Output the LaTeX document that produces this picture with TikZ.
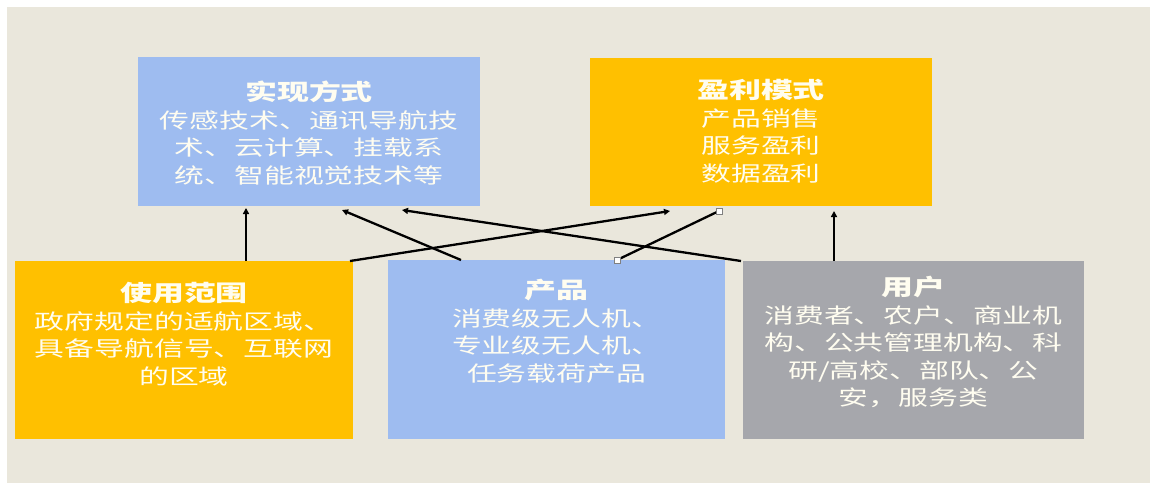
\documentclass[tikz,border=0pt]{standalone}
\usepackage{fontspec}
\newfontfamily\cjk[FakeStretch=1.42]{Noto Sans CJK SC}
\usetikzlibrary{calc,arrows.meta}
\definecolor{bgc}{RGB}{234,231,220}
\definecolor{blu}{RGB}{158,188,240}
\definecolor{org}{RGB}{255,192,0}
\definecolor{gry}{RGB}{166,167,172}
\definecolor{txtc}{RGB}{255,253,240}
\newcommand{\ttl}{\fontsize{22.5}{27.5}\selectfont\bfseries}
\begin{document}
\begin{tikzpicture}[x=1pt,y=-1pt,
  box/.style={draw=none, inner sep=0pt, outer sep=0pt, anchor=north west},
  txt/.style={anchor=north, align=center, inner sep=0pt, text=txtc, font=\cjk\fontsize{21}{27.5}\selectfont},
  arr/.style={draw=black, line width=2.3pt, -{Triangle[length=6pt,width=6pt]}},
  handle/.style={draw=gray, fill=white, line width=0.5pt, minimum size=6pt, inner sep=0pt}]
\useasboundingbox (0,0) rectangle (1150,483);
\fill[white] (0,0) rectangle (1150,483);
\fill[bgc] (7,7) rectangle (1150,483);

\node[box, fill=blu, minimum width=342pt, minimum height=149pt] (sx) at (138,57) {};
\node[box, fill=org, minimum width=342pt, minimum height=148pt] (yl) at (590,58) {};
\node[box, fill=org, minimum width=338pt, minimum height=178pt] (su) at (15,261) {};
\node[box, fill=blu, minimum width=337pt, minimum height=179pt] (cp) at (388,260) {};
\node[box, fill=gry, minimum width=341pt, minimum height=178pt] (yh) at (743,261) {};

\node[txt] (sxt) at ($(sx.north)+(0,24)$) {{\ttl 实现方式}\\传感技术、通讯导航技\\术、云计算、挂载系\\统、智能视觉技术等};
\node[txt] (ylt) at ($(yl.north)+(0,21)$) {{\ttl 盈利模式}\\产品销售\\服务盈利\\数据盈利};
\node[txt] (sut) at ($(su.north)+(0,21)$) {{\ttl 使用范围}\\政府规定的适航区域、\\具备导航信号、互联网\\的区域};
\node[txt] (cpt) at ($(cp.north)+(0,19)$) {{\ttl 产品}\\消费级无人机、\\专业级无人机、\\任务载荷产品};
\node[txt] (yht) at ($(yh.north)+(0,15)$) {{\ttl 用户}\\消费者、农户、商业机\\构、公共管理机构、科\\研/高校、部队、公\\安，服务类};

\draw[arr] ($(su.north west)+(231,0)$) -- ($(sx.south west)+(108,2)$);
\draw[arr] ($(cp.north west)+(73,0)$) -- ($(sx.south west)+(204,4)$);
\draw[arr] ($(yh.north west)+(-2,0)$) -- ($(sx.south west)+(264,4)$);
\draw[arr] ($(su.north east)+(-3,0)$) -- ($(yl.south west)+(80,5)$);
\draw[line width=2.3pt] ($(cp.north west)+(229,0)$) -- ($(yl.south west)+(129,5)$);
\draw[arr] ($(yh.north west)+(91,0)$) -- ($(yl.south west)+(244,5)$);
\node[handle] (h1) at ($(cp.north west)+(229,0)$) {};
\node[handle] (h2) at ($(yl.south west)+(129,5)$) {};
\end{tikzpicture}
\end{document}
